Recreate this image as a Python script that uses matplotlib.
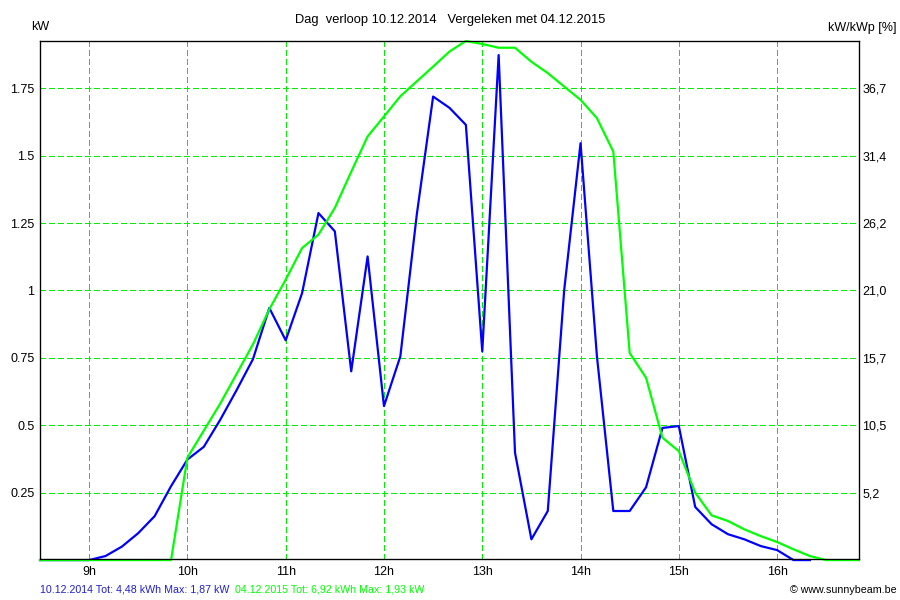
import matplotlib
matplotlib.use("Agg")
import matplotlib.pyplot as plt

plt.rcParams['font.family'] = ['Liberation Sans', 'DejaVu Sans']

# tijdstippen (elke 10 minuten), 8:30 .. 16:50
times = ["8:30", "8:40", "8:50", "9:00", "9:10", "9:20", "9:30", "9:40", "9:50",
         "10:00", "10:10", "10:20", "10:30", "10:40", "10:50",
         "11:00", "11:10", "11:20", "11:30", "11:40", "11:50",
         "12:00", "12:10", "12:20", "12:30", "12:40", "12:50",
         "13:00", "13:10", "13:20", "13:30", "13:40", "13:50",
         "14:00", "14:10", "14:20", "14:30", "14:40", "14:50",
         "15:00", "15:10", "15:20", "15:30", "15:40", "15:50",
         "16:00", "16:10", "16:20", "16:30", "16:40", "16:50"]

# 10.12.2014 (kW), loopt tot 16:20
kw_2014 = [0, 0, 0, 0.0, 0.015, 0.05, 0.10, 0.163, 0.274,
           0.373, 0.42, 0.52, 0.63, 0.745, 0.935,
           0.815, 0.99, 1.287, 1.219, 0.70, 1.126,
           0.571, 0.756, 1.28, 1.719, 1.677, 1.614,
           0.774, 1.873, 0.398, 0.077, 0.182, 1.0,
           1.546, 0.756, 0.182, 0.182, 0.27, 0.49,
           0.497, 0.197, 0.133, 0.096, 0.077, 0.052,
           0.037, 0.0, 0.0]

# 04.12.2015 (kW)
kw_2015 = [0, 0, 0, 0, 0, 0, 0, 0, 0,
           0.38, 0.48, 0.58, 0.69, 0.80, 0.93,
           1.04, 1.157, 1.207, 1.306, 1.44, 1.571,
           1.645, 1.72, 1.775, 1.83, 1.886, 1.925,
           1.914, 1.90, 1.90, 1.848, 1.806, 1.756,
           1.707, 1.639, 1.515, 0.768, 0.676, 0.454,
           0.404, 0.25, 0.166, 0.145, 0.114, 0.089,
           0.067, 0.04, 0.015, 0, 0, 0]

hours = [9, 10, 11, 12, 13, 14, 15, 16]
hour_labels = [str(h) + "h" for h in hours]
kw_ticks = [0.25, 0.5, 0.75, 1, 1.25, 1.5, 1.75]
kw_labels = ["0.25", "0.5", "0.75", "1", "1.25", "1.5", "1.75"]
pct_labels = ["5,2", "10,5", "15,7", "21,0", "26,2", "31,4", "36,7"]


def to_hours(t):
    h, m = t.split(":")
    return int(h) + int(m) / 60.0


x = [to_hours(t) for t in times]

fig = plt.figure(figsize=(9, 6), dpi=100)
ax = fig.add_axes([40 / 900, 41 / 600, 819 / 900, 518 / 600])

ax.plot(x[:len(kw_2014)], kw_2014, color='#0000ff', lw=1.6, clip_on=False, zorder=3)
ax.plot(x, kw_2015, color='#00ff00', lw=1.6, clip_on=False, zorder=4)

ax.set_xlim(8.5, 16.8333)
ax.set_ylim(0.004, 1.925)

ax.set_xticks(hours)
ax.set_xticklabels(hour_labels)
ax.set_yticks(kw_ticks)
ax.set_yticklabels(kw_labels)
ax.grid(True, color='#00ee00', linestyle=(0, (5.5, 4)), linewidth=0.72, antialiased=False)
ax.set_axisbelow(True)
ax.tick_params(axis='x', length=0, pad=5, labelsize=9)
ax.tick_params(axis='y', length=0, pad=4, labelsize=9)
for s in ax.spines.values():
    s.set_linewidth(0.9)

ax2 = ax.twinx()
ax2.set_ylim(ax.get_ylim())
ax2.set_yticks(kw_ticks)
ax2.set_yticklabels(pct_labels)
ax2.tick_params(axis='y', length=0, pad=2.5, labelsize=9)

fig.text(0.5, 1 - 20 / 600, "Dag  verloop 10.12.2014   Vergeleken met 04.12.2015",
         ha='center', va='center', fontsize=9.3)
fig.text(31 / 900, 1 - 27 / 600, "kW", ha='left', va='center', fontsize=9)
fig.text(897 / 900, 1 - 28 / 600, "kW/kWp [%]", ha='right', va='center', fontsize=9)

fig.text(40 / 900, 1 - 589 / 600, "10.12.2014 Tot: 4,48 kWh Max: 1,87 kW",
         ha='left', va='center', fontsize=7.7, color='#2020d0')
fig.text(235 / 900, 1 - 589 / 600, "04.12.2015 Tot: 6,92 kWh Max: 1,93 kW",
         ha='left', va='center', fontsize=7.7, color='#00ff00')
fig.text(897 / 900, 1 - 590 / 600, "\u00a9 www.sunnybeam.be", ha='right', va='center',
         fontsize=7.7, color='black')

fig.savefig("out.png", dpi=100)
